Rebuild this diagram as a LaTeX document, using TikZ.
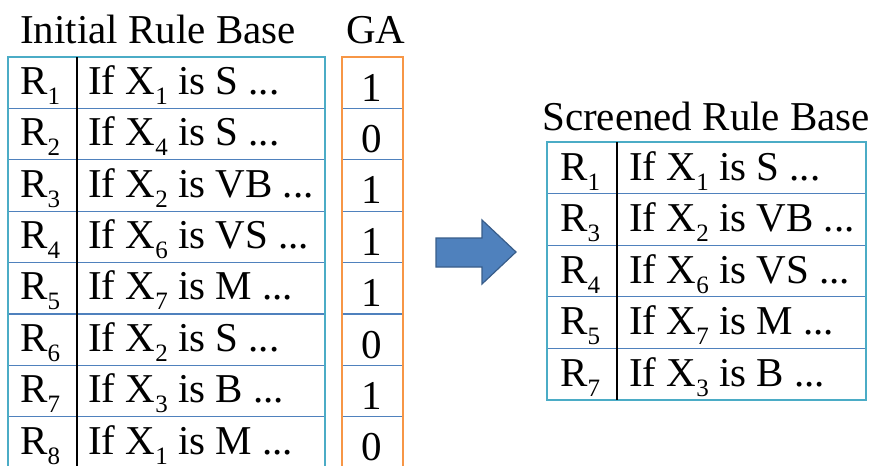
\documentclass[tikz,border=0pt]{standalone}
\usepackage{fontspec}
\setmainfont{Liberation Serif}
\definecolor{tblcyan}{HTML}{4BACC6}
\definecolor{rowblue}{HTML}{4F81BD}
\definecolor{gaorange}{HTML}{F79646}
\definecolor{arrowfill}{HTML}{4F81BD}
\definecolor{arrowline}{HTML}{385D8A}
% lowered, smaller index after a letter
\newcommand\rs[1]{\raisebox{-10pt}{\fontsize{25}{25}\selectfont #1}}
\tikzset{
  txt/.style={font=\fontsize{41}{44}\selectfont, inner sep=0pt, anchor=base west},
  num/.style={font=\fontsize{41}{44}\selectfont, inner sep=0pt, anchor=base},
  frame/.style={draw=tblcyan, line width=2.2pt},
  gaframe/.style={draw=gaorange, line width=2.2pt},
  rowline/.style={draw=rowblue, line width=1.3pt},
  divider/.style={draw=black, line width=2pt},
  bigarrow/.style={fill=arrowfill, draw=arrowline, line width=1.2pt}
}
\begin{document}
\begin{tikzpicture}[x=1pt,y=-1pt]
\useasboundingbox (0,0) rectangle (879,466);

% ---- initial rule base ----
\node[txt] (title1) at (20,43.3) {Initial Rule Base};
\node[txt] (titleGA) at (346,43.3) {GA};

\foreach \i/\c/\g [count=\k from 0] in {
  1/{If X\rs{1} is S ...}/1,
  2/{If X\rs{4} is S ...}/0,
  3/{If X\rs{2} is VB ...}/1,
  4/{If X\rs{6} is VS ...}/1,
  5/{If X\rs{7} is M ...}/1,
  6/{If X\rs{2} is S ...}/0,
  7/{If X\rs{3} is B ...}/1,
  8/{If X\rs{1} is M ...}/0} {
  \pgfmathsetmacro\top{57+\k*51.4}
  \node[txt] (l\i) at (20,\top+37.3) {R\rs{\i}};
  \node[txt] (c\i) at (88,\top+37.3) {\c};
  \node[num] (g\i) at (372,\top+44) {\g};
  \ifnum\k>0
    \draw[rowline] (8,\top) -- (325,\top);
    \draw[rowline] (342,\top) -- (403,\top);
  \fi
}
\draw[frame] (8,470) -- (8,57) -- (325,57) -- (325,470);
\draw[gaframe] (342,470) -- (342,57) -- (403,57) -- (403,470);
\draw[divider] (77,57) -- (77,470);

% ---- arrow ----
\draw[bigarrow] (436,238) -- (482,238) -- (482,220) -- (516,252)
  -- (482,284) -- (482,267) -- (436,267) -- cycle;

% ---- screened rule base ----
\node[txt] (title2) at (542,130) {Screened Rule Base};
\foreach \i/\c [count=\k from 0] in {
  1/{If X\rs{1} is S ...},
  3/{If X\rs{2} is VB ...},
  4/{If X\rs{6} is VS ...},
  5/{If X\rs{7} is M ...},
  7/{If X\rs{3} is B ...}} {
  \pgfmathsetmacro\top{142+\k*51.6}
  \node[txt] (sl\i) at (560,\top+38) {R\rs{\i}};
  \node[txt] (sc\i) at (629,\top+38) {\c};
  \ifnum\k>0
    \draw[rowline] (547,\top) -- (866,\top);
  \fi
}
\draw[frame] (547,142) rectangle (866,400);
\draw[divider] (617,142) -- (617,400);
\end{tikzpicture}
\end{document}
